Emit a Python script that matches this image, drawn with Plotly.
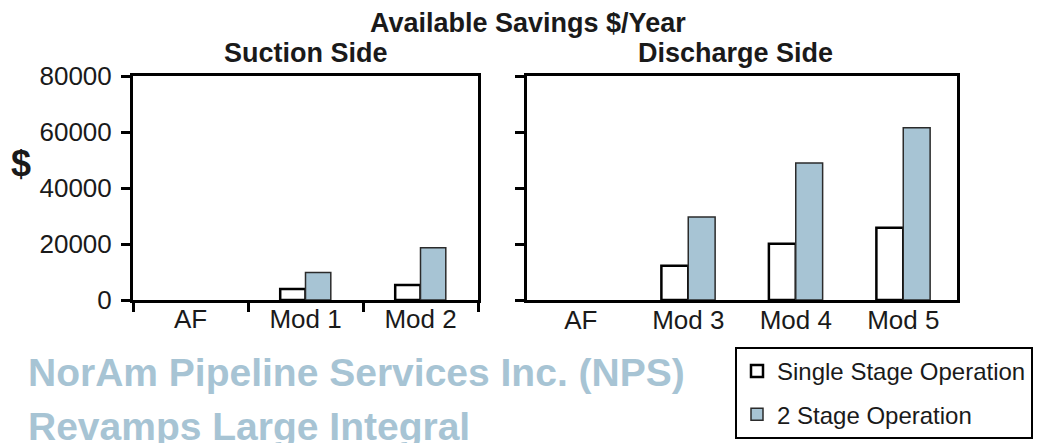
import plotly.graph_objects as go

# ---- data ----
suction_cats = ["AF", "Mod 1", "Mod 2"]
suction_single = [None, 3900, 5400]
suction_two = [None, 9800, 18700]

discharge_cats = ["AF", "Mod 3", "Mod 4", "Mod 5"]
discharge_single = [None, 12200, 20100, 25800]
discharge_two = [None, 29600, 48900, 61500]

y_ticks = [0, 20000, 40000, 60000, 80000]

title_text = "Available Savings $/Year"
left_title = "Suction Side"
right_title = "Discharge Side"
watermark_1 = "NorAm Pipeline Services Inc. (NPS)"
watermark_2 = "Revamps Large Integral"

W, H = 1041, 443
FONT = "Liberation Sans, Arial, sans-serif"
TXT = "#1a1a1a"
BLUE = "#a7c4d4"

def px(x):
    return x / W

def py(y):
    return 1 - y / H

fig = go.Figure()

wl = 0.22
wr = 0.25
fig.add_trace(go.Bar(x=suction_cats, y=suction_single, name="Single Stage Operation",
                     marker=dict(color="white", line=dict(color="black", width=2.5)),
                     width=wl, offset=-wl, xaxis="x", yaxis="y", legendgroup="s"))
fig.add_trace(go.Bar(x=suction_cats, y=suction_two, name="2 Stage Operation",
                     marker=dict(color=BLUE, line=dict(color="#2b2b2b", width=1.5)),
                     width=wl, offset=0, xaxis="x", yaxis="y", legendgroup="t"))
fig.add_trace(go.Bar(x=discharge_cats, y=discharge_single, name="Single Stage Operation",
                     marker=dict(color="white", line=dict(color="black", width=2.5)),
                     width=wr, offset=-wr, xaxis="x2", yaxis="y2", legendgroup="s",
                     showlegend=False))
fig.add_trace(go.Bar(x=discharge_cats, y=discharge_two, name="2 Stage Operation",
                     marker=dict(color=BLUE, line=dict(color="#2b2b2b", width=1.5)),
                     width=wr, offset=0, xaxis="x2", yaxis="y2", legendgroup="t",
                     showlegend=False))

ydom = [py(300), py(76)]
tickfont = dict(family=FONT, size=26, color=TXT)

fig.update_layout(
    width=W, height=H,
    margin=dict(l=0, r=0, t=0, b=0),
    paper_bgcolor="white", plot_bgcolor="white",
    barmode="group",
    showlegend=True,
    font=dict(family=FONT, color=TXT),
    xaxis=dict(domain=[px(133), px(478)], anchor="y", type="category",
               categoryorder="array", categoryarray=suction_cats,
               range=[-0.5, len(suction_cats) - 0.5],
               showline=True, linecolor="black", linewidth=3, mirror=True,
               ticks="outside", tickson="boundaries", ticklen=9, tickwidth=3,
               tickcolor="black", tickfont=tickfont, ticklabelstandoff=-6,
               showgrid=False, zeroline=False, automargin=False, fixedrange=True),
    yaxis=dict(domain=ydom, anchor="x", range=[0, 80000], tickvals=y_ticks,
               tickformat="d",
               showline=True, linecolor="black", linewidth=3, mirror=True,
               ticks="outside", ticklen=9, tickwidth=3, tickcolor="black",
               tickfont=tickfont, ticklabelstandoff=4,
               showgrid=False, zeroline=False, automargin=False),
    xaxis2=dict(domain=[px(527), px(957)], anchor="y2", type="category",
                categoryorder="array", categoryarray=discharge_cats,
                range=[-0.5, len(discharge_cats) - 0.5],
                showline=True, linecolor="black", linewidth=3, mirror=True,
                ticks="", tickfont=tickfont, ticklabelstandoff=-5,
                showgrid=False, zeroline=False, automargin=False),
    yaxis2=dict(domain=ydom, anchor="x2", range=[0, 80000], tickvals=y_ticks,
                showline=True, linecolor="black", linewidth=3, mirror=True,
                ticks="outside", ticklen=9, tickwidth=3, tickcolor="black",
                showticklabels=False,
                showgrid=False, zeroline=False, automargin=False),
    yaxis3=dict(domain=ydom, anchor="x2", overlaying="y2", side="right",
                range=[0, 80000], tickvals=y_ticks, tickformat="d",
                showline=False, ticks="", tickfont=tickfont, ticklabelstandoff=10,
                showgrid=False, zeroline=False, automargin=False),
    legend=dict(x=px(735), y=py(347), xanchor="left", yanchor="top",
                bordercolor="black", borderwidth=2, bgcolor="white",
                font=dict(family=FONT, size=24, color=TXT),
                traceorder="grouped", tracegroupgap=9,
                itemclick=False, itemdoubleclick=False),
    bargap=0.5,
)

ann = [
    dict(text="<b>%s</b>" % title_text, x=px(528), y=py(23), size=27, xanchor="center"),
    dict(text="<b>%s</b>" % left_title, x=px(306), y=py(53), size=27, xanchor="center"),
    dict(text="<b>%s</b>" % right_title, x=px(735), y=py(53), size=27, xanchor="center"),
    dict(text="<b>$</b>", x=px(21), y=py(163), size=36, xanchor="center"),
]
for a in ann:
    fig.add_annotation(text=a["text"], x=a["x"], y=a["y"], xref="paper", yref="paper",
                       xanchor=a["xanchor"], yanchor="middle", showarrow=False,
                       font=dict(family=FONT, size=a["size"], color=TXT))

WM_FONT = "Liberation Sans, Arial, sans-serif"
for txt, yc in [(watermark_1, 372), (watermark_2, 426)]:
    fig.add_annotation(text="<b>%s</b>" % txt, x=px(26), y=py(yc), xref="paper", yref="paper",
                       xanchor="left", yanchor="middle", showarrow=False,
                       font=dict(family=WM_FONT, size=39, color=BLUE))

fig.write_html("out.html", config={"displayModeBar": False},
               post_script="document.body.style.margin='0';document.body.style.overflow='hidden';")
